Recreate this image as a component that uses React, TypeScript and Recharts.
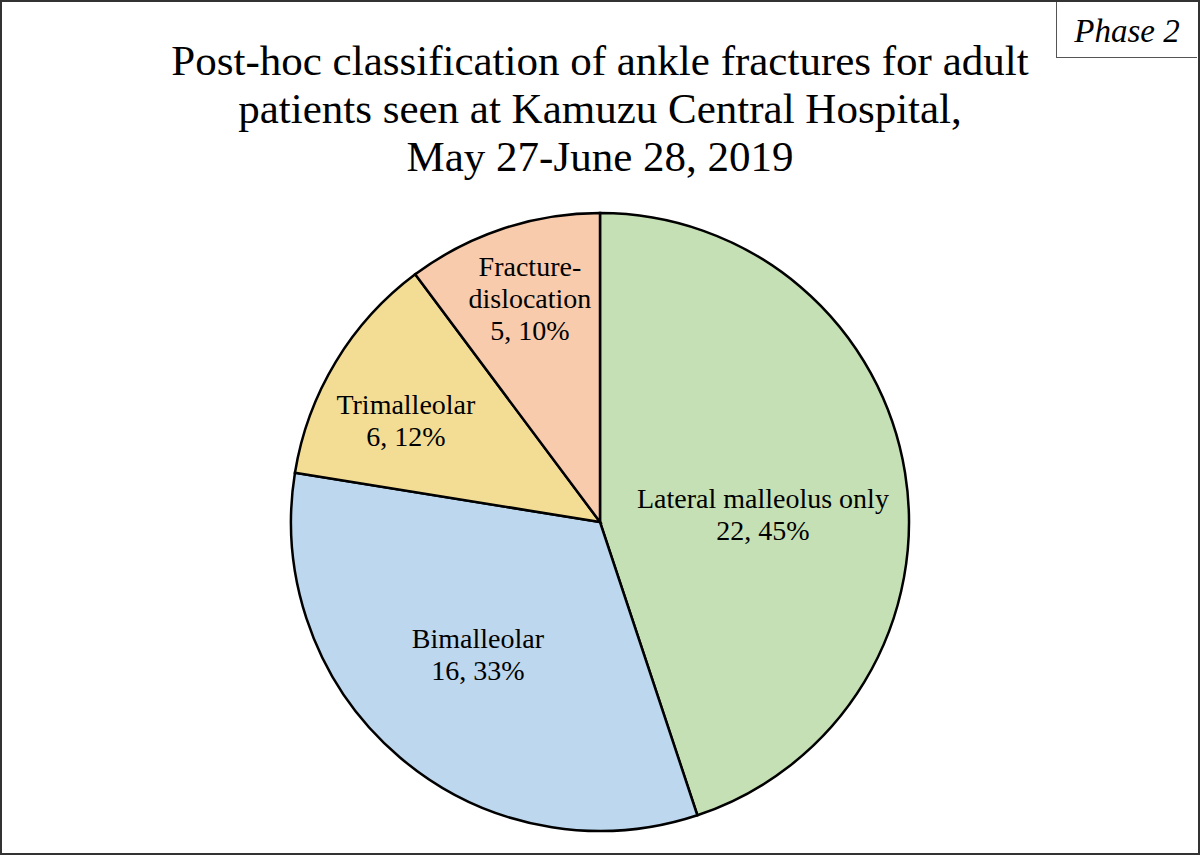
import { PieChart, Pie, Cell } from "recharts";

const CATEGORIES = ["Lateral malleolus only", "Bimalleolar", "Trimalleolar", "Fracture-\ndislocation"];
const COUNTS = [22, 16, 6, 5];
const PERCENTS = ["45%", "33%", "12%", "10%"];
const COLORS = ["#C5E0B4", "#BDD7EE", "#F3DD95", "#F8CBAD"];

// label placement per slice: distance as share of radius, and angle nudge (deg)
const LABEL_R = [0.528, 0.582, 0.709, 0.76];
const LABEL_DA = [-6.2, -2.35, 3.6, -1.0];

const TITLE = [
  "Post-hoc classification of ankle fractures for adult",
  "patients seen at Kamuzu Central Hospital,",
  "May 27-June 28, 2019",
];

const FONT = "'Liberation Serif', 'Times New Roman', serif";
const RADIAN = Math.PI / 180;

const data = CATEGORIES.map((name, i) => ({
  name,
  value: COUNTS[i],
  pct: PERCENTS[i],
}));

function SliceLabel(props: any) {
  const { cx, cy, midAngle, outerRadius, index } = props;
  const r = outerRadius * LABEL_R[index];
  const a = midAngle + LABEL_DA[index];
  const x = cx + r * Math.cos(-a * RADIAN);
  const y = cy + r * Math.sin(-a * RADIAN);
  const lines = [...CATEGORIES[index].split("\n"), `${COUNTS[index]}, ${PERCENTS[index]}`];
  const lh = 32;
  const y0 = y - ((lines.length - 1) * lh) / 2;
  return (
    <text
      x={x}
      y={y0}
      textAnchor="middle"
      dominantBaseline="central"
      fontFamily={FONT}
      fontSize={28}
      fill="#000"
      style={{ fontFamily: FONT }}
    >
      {lines.map((l, i) => (
        <tspan key={i} x={x} y={y0 + i * lh} fontFamily={FONT}>
          {l}
        </tspan>
      ))}
    </text>
  );
}

export default function App() {
  return (
    <div
      style={{
        position: "fixed",
        left: 0,
        top: 0,
        width: 1200,
        height: 855,
        background: "#fff",
        fontFamily: FONT,
      }}
    >
      <PieChart
        width={1200}
        height={855}
        margin={{ top: 0, right: 0, bottom: 0, left: 0 }}
        style={{ position: "absolute", left: 0, top: 0 }}
      >
        <Pie
          data={data}
          dataKey="value"
          nameKey="name"
          cx={600}
          cy={522}
          outerRadius={309}
          startAngle={90}
          endAngle={-270}
          stroke="#000"
          strokeWidth={2.5}
          label={SliceLabel}
          labelLine={false}
          isAnimationActive={false}
        >
          {data.map((d, i) => (
            <Cell key={d.name} fill={COLORS[i]} />
          ))}
        </Pie>
      </PieChart>
      <div
        style={{
          position: "absolute",
          left: 0,
          top: 37,
          width: 1200,
          textAlign: "center",
          fontSize: 43,
          lineHeight: "48px",
          color: "#000",
        }}
      >
        {TITLE.map((t) => (
          <div key={t}>{t}</div>
        ))}
      </div>
      <div
        style={{
          position: "absolute",
          left: 1056,
          top: 0,
          width: 141,
          height: 58,
          borderLeft: "1px solid #555",
          borderBottom: "1px solid #555",
          boxSizing: "border-box",
          fontStyle: "italic",
          fontSize: 33,
          lineHeight: "62px",
          textAlign: "center",
        }}
      >
        Phase 2
      </div>
      <div
        style={{
          position: "absolute",
          left: 0,
          top: 0,
          width: 1200,
          height: 855,
          border: "2px solid #333",
          boxSizing: "border-box",
          pointerEvents: "none",
        }}
      />
    </div>
  );
}
